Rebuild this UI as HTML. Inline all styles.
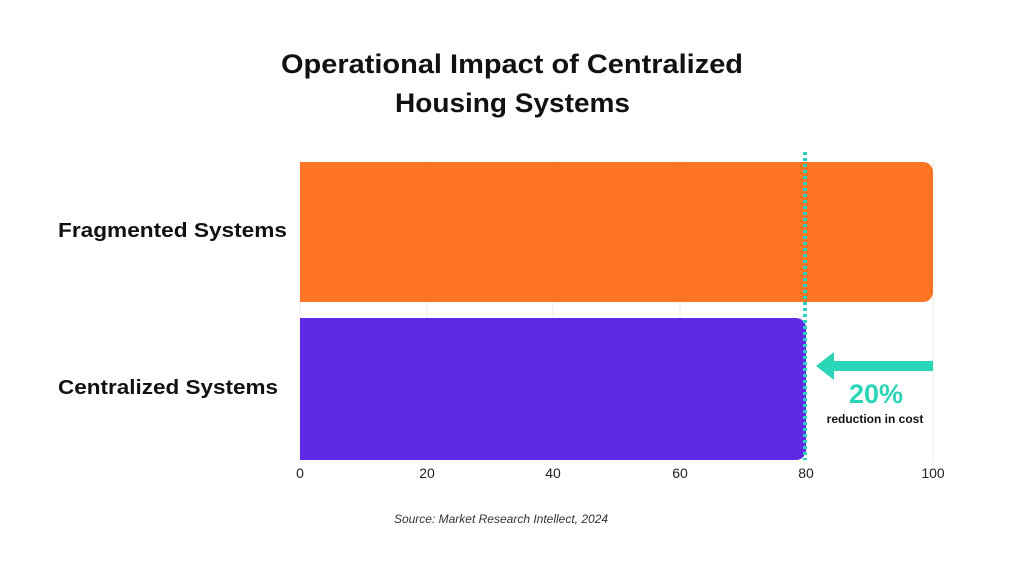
<!DOCTYPE html>
<html><head><style>
body{margin:0;background:#fff;}
svg{display:block;}
</style></head><body>
<svg width="1024" height="576" xmlns="http://www.w3.org/2000/svg" font-family="Liberation Sans, sans-serif">
<rect width="1024" height="576" fill="#fff"/>
<text x="281" y="73" font-size="27" font-weight="bold" fill="#111" textLength="462" lengthAdjust="spacingAndGlyphs">Operational Impact of Centralized</text>
<text x="395" y="112" font-size="27" font-weight="bold" fill="#111" textLength="235" lengthAdjust="spacingAndGlyphs">Housing Systems</text>
<g stroke="#ececec" stroke-width="1">
<line x1="300" y1="160" x2="300" y2="462"/><line x1="427" y1="160" x2="427" y2="462"/>
<line x1="553" y1="160" x2="553" y2="462"/><line x1="680" y1="160" x2="680" y2="462"/>
<line x1="933" y1="160" x2="933" y2="462"/>
</g>
<path d="M300 162 H923 A10 10 0 0 1 933 172 V292 A10 10 0 0 1 923 302 H300 Z" fill="#fd7522"/>
<path d="M300 318 H796 A10 10 0 0 1 806 328 V450 A10 10 0 0 1 796 460 H300 Z" fill="#5e2ae5"/>
<line x1="805" y1="152" x2="805" y2="460" stroke="#2bd0c0" stroke-width="4" stroke-dasharray="3,3"/>
<rect x="832" y="361" width="101" height="10" fill="#2bd5b8"/>
<polygon points="816,366 834,352 834,380" fill="#2bd5b8"/>
<text x="876" y="403" text-anchor="middle" font-size="27" font-weight="bold" fill="#2bd5b8">20%</text>
<text x="875" y="423" text-anchor="middle" font-size="12" font-weight="bold" fill="#111">reduction in cost</text>
<text x="58" y="237" font-size="20" font-weight="bold" fill="#111" textLength="229" lengthAdjust="spacingAndGlyphs">Fragmented Systems</text>
<text x="58" y="394" font-size="20" font-weight="bold" fill="#111" textLength="220" lengthAdjust="spacingAndGlyphs">Centralized Systems</text>
<g font-size="14" fill="#222" text-anchor="middle">
<text x="300" y="478">0</text><text x="427" y="478">20</text><text x="553" y="478">40</text>
<text x="680" y="478">60</text><text x="806" y="478">80</text><text x="933" y="478">100</text>
</g>
<text x="501" y="523" text-anchor="middle" font-size="12" font-style="italic" fill="#333">Source: Market Research Intellect, 2024</text>
</svg>
</body></html>
